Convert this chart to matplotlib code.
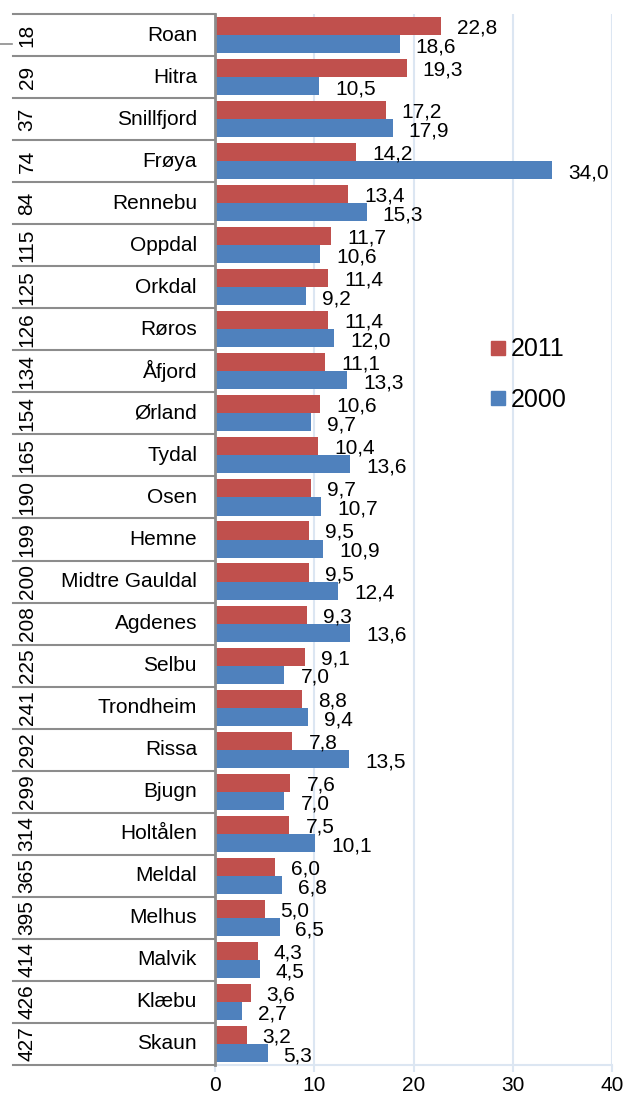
import matplotlib
matplotlib.use("Agg")
import matplotlib.pyplot as plt
from matplotlib.patches import Rectangle

plt.rcParams['font.family'] = ['Liberation Sans', 'DejaVu Sans']

names = ["Roan", "Hitra", "Snillfjord", "Frøya", "Rennebu", "Oppdal", "Orkdal", "Røros",
         "Åfjord", "Ørland", "Tydal", "Osen", "Hemne", "Midtre Gauldal", "Agdenes", "Selbu",
         "Trondheim", "Rissa", "Bjugn", "Holtålen", "Meldal", "Melhus", "Malvik", "Klæbu", "Skaun"]
ranks = [18, 29, 37, 74, 84, 115, 125, 126, 134, 154, 165, 190, 199, 200, 208, 225, 241,
         292, 299, 314, 365, 395, 414, 426, 427]
v2011 = [22.8, 19.3, 17.2, 14.2, 13.4, 11.7, 11.4, 11.4, 11.1, 10.6, 10.4, 9.7, 9.5, 9.5,
         9.3, 9.1, 8.8, 7.8, 7.6, 7.5, 6.0, 5.0, 4.3, 3.6, 3.2]
v2000 = [18.6, 10.5, 17.9, 34.0, 15.3, 10.6, 9.2, 12.0, 13.3, 9.7, 13.6, 10.7, 10.9, 12.4,
         13.6, 7.0, 9.4, 13.5, 7.0, 10.1, 6.8, 6.5, 4.5, 2.7, 5.3]
series_labels = ["2011", "2000"]
xticks = [0, 10, 20, 30, 40]

RED = "#c0504d"
BLUE = "#4f81bd"
GRID = "#dce6f2"
GRAY = "#8c8c8c"
FS = 15

W, H = 624, 1099
fig = plt.figure(figsize=(W / 100, H / 100), dpi=100)
L, R, T, B = 215, 612, 14, 1065
ax = fig.add_axes([L / W, 1 - B / H, (R - L) / W, (B - T) / H])

n = len(names)
ypos = list(range(n))
bh = 0.43
yr = [y + 0.285 for y in ypos]
yb = [y + 0.715 for y in ypos]
ax.barh(yr, v2011, height=bh, color=RED, zorder=3)
ax.barh(yb, v2000, height=bh, color=BLUE, zorder=3)

for y, v in zip(yr, v2011):
    ax.annotate(f"{v:.1f}".replace(".", ","), (v, y), xytext=(11.5, -5.4), textcoords="offset points",
                ha="left", va="baseline", fontsize=FS, zorder=4)
for y, v in zip(yb, v2000):
    ax.annotate(f"{v:.1f}".replace(".", ","), (v, y), xytext=(11.5, -6.0), textcoords="offset points",
                ha="left", va="baseline", fontsize=FS, zorder=4)

ax.set_xlim(0, 40)
ax.set_ylim(n, 0)
ax.set_xticks(xticks)
ax.set_xticklabels([str(t) for t in xticks], fontsize=FS)
ax.set_yticks([])
ax.grid(axis="x", color=GRID, linewidth=1.5, zorder=0)
ax.tick_params(axis="x", color=GRID, length=5, width=1.5, pad=3)
for s in ["top", "right"]:
    ax.spines[s].set_visible(False)
ax.spines["bottom"].set_color(GRID)
ax.spines["bottom"].set_linewidth(1.5)
ax.spines["left"].set_color(GRAY)
ax.spines["left"].set_linewidth(2)
ax.spines["left"].set_zorder(5)

# left table
xl = -(L - 13) / (R - L) * 40
xname = -(L - 197) / (R - L) * 40
xrank = -(L - 27) / (R - L) * 40
for i in range(n + 1):
    ax.plot([xl, 0], [i, i], color=GRAY, lw=1.5, clip_on=False, zorder=5)
for i, (nm, rk) in enumerate(zip(names, ranks)):
    ax.text(xname, i + 0.5, nm, ha="right", va="center", fontsize=FS, clip_on=False)
    ax.text(xrank, i + 0.5, str(rk), ha="center", va="center", rotation=90,
            fontsize=FS, clip_on=False)

# small stray line top-left
fig.add_artist(plt.Line2D([0, 12 / W], [1 - 44 / H, 1 - 44 / H], color=GRAY, lw=1.2))

# legend
for k, (lab, col) in enumerate(zip(series_labels, [RED, BLUE])):
    yc = 348 + 50 * k
    fig.add_artist(Rectangle((491 / W, 1 - (yc + 7) / H), 14 / W, 14 / H,
                             transform=fig.transFigure, color=col))
    fig.text(511 / W, 1 - (yc + 8.5) / H, lab, fontsize=18, ha="left", va="baseline")

fig.savefig("out.png", dpi=100)
